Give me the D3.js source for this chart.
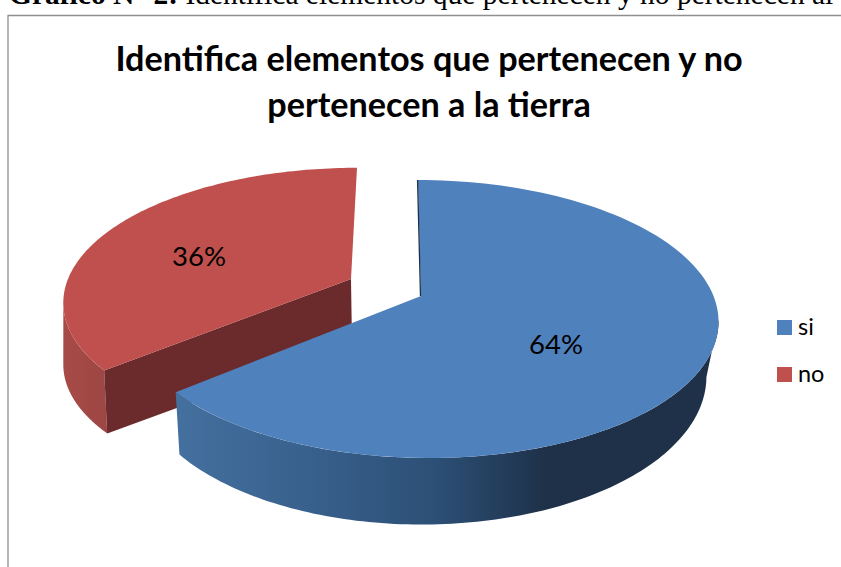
<!DOCTYPE html>
<html><head><meta charset="utf-8">
<script src="https://cdn.jsdelivr.net/npm/d3@7/dist/d3.min.js"></script>
<style>html,body{margin:0;padding:0;background:#fff;overflow:hidden}svg{display:block}</style>
</head><body><svg id="c" width="841" height="567"></svg>
<script>
const categories = ["si", "no"];
const values = [64, 36];
const titleLines = ["Identifica elementos que pertenecen y no", "pertenecen a la tierra"];
const captionBold = "Gráfico N° 2:";
const captionText = " Identifica elementos que pertenecen y no pertenecen al medio";

const svg = d3.select("#c");
const color = d3.scaleOrdinal(categories, ["#4f81bd", "#c0504d"]);
const arcs = d3.pie().sort(null).value(d => d)(values);

const proj = g => t => {
  const u = Math.sin(t), v = -Math.cos(t), s = 1 / (1 - g.p * v);
  const y = g.y0 + g.A * v * s;
  return [g.x0 + g.B * u * s + g.skew * (y - g.y0), y];
};
const blueTop = proj({x0:422.5,y0:296,A:135.2,B:291,p:.1655,skew:.04});
const blueLow = proj({x0:421.5,y0:352,A:144,B:281,p:.1655,skew:0});
const redTop  = proj({x0:352,y0:279,A:129,B:284,p:.16,skew:-.045});
const redLow  = proj({x0:350,y0:344,A:126,B:283,p:.16,skew:0});
const line = d3.line();
const rim = (f, a, b) => d3.range(0, 121).map(i => f(a + (b - a) * i / 120));

const defs = svg.append("defs");
function grad(id, x1, x2, stops){
  const g = defs.append("linearGradient").attr("id", id).attr("gradientUnits","userSpaceOnUse")
    .attr("x1", x1).attr("x2", x2).attr("y1", 0).attr("y2", 0);
  stops.forEach(([o,c]) => g.append("stop").attr("offset", o).attr("stop-color", c));
}
grad("blueSide", 176, 720, [[0,"#44709f"],[.25,"#38608c"],[.48,"#2c4f75"],[.68,"#1e3149"],[1,"#1e3149"]]);
grad("redSide", 60, 110, [[0,"#a84b48"],[1,"#9c4643"]]);

// caption + frame
const cap = svg.append("text").attr("x", 9).attr("y", 4)
  .attr("font-family","Liberation Serif").attr("font-size", 29.5).attr("fill","#000");
cap.append("tspan").attr("font-weight","bold").text(captionBold);
cap.append("tspan").text(captionText);
svg.append("path").attr("d","M8 567V15.5H841").attr("fill","none").attr("stroke","#8f8f8f").attr("stroke-width",1.3);

// title
svg.selectAll("text.t").data(titleLines).join("text").attr("class","t")
  .attr("x", 429).attr("y",(d,i)=>71+i*46).attr("text-anchor","middle")
  .attr("font-family","Lato").attr("font-weight","bold").attr("font-size",34.2).attr("fill","#000").text(d=>d);

// red slice
const r = arcs[1];
const redColor = color(categories[1]);
const redSideEnd = 3*Math.PI/2-.16;
svg.append("path").attr("fill","url(#redSide)")
  .attr("d", line([...rim(redTop, r.startAngle, redSideEnd), ...rim(redLow, r.startAngle, redSideEnd).reverse()])+"Z");
svg.append("path").attr("fill","#6b2a2c")
  .attr("d", line([redTop(r.startAngle),redLow(r.startAngle),[352,344],[351,279]])+"Z");
svg.append("path").attr("fill",redColor)
  .attr("d", line([...rim(redTop, r.startAngle, r.endAngle), [351,279]])+"Z");

// blue slice
const b = arcs[0];
svg.append("path").attr("fill","url(#blueSide)")
  .attr("d", line([...rim(blueTop, 1.74, b.endAngle), ...rim(blueLow, 1.74, b.endAngle).reverse()])+"Z");
svg.append("path").attr("fill",color(categories[0]))
  .attr("d", line([...rim(blueTop, b.startAngle, b.endAngle), [421,296]])+"Z");
svg.append("path").attr("fill","none").attr("stroke","#1e3149").attr("stroke-width",1.3)
  .attr("d", line([blueTop(0).map((d,i)=>i?d:d-.3),[420.5,296]]));

// data labels
const pct = d3.format(".0%");
const total = d3.sum(values);
const labelPos = [[556,354],[199,266]];
svg.selectAll("text.l").data(values).join("text").attr("class","l")
  .attr("x",(d,i)=>labelPos[i][0]).attr("y",(d,i)=>labelPos[i][1]).attr("text-anchor","middle")
  .attr("font-family","Lato").attr("font-size",27.5).attr("fill","#000").text(d=>pct(d/total));

// legend
const legend = svg.selectAll("g.lg").data(categories).join("g").attr("class","lg")
  .attr("transform",(d,i)=>`translate(777,${320+i*47})`);
legend.append("rect").attr("width",15).attr("height",15).attr("fill",d=>color(d));
legend.append("text").attr("x",21).attr("y",14.5).attr("font-family","Lato").attr("font-size",23.5).attr("fill","#000").text(d=>d);
</script></body></html>
